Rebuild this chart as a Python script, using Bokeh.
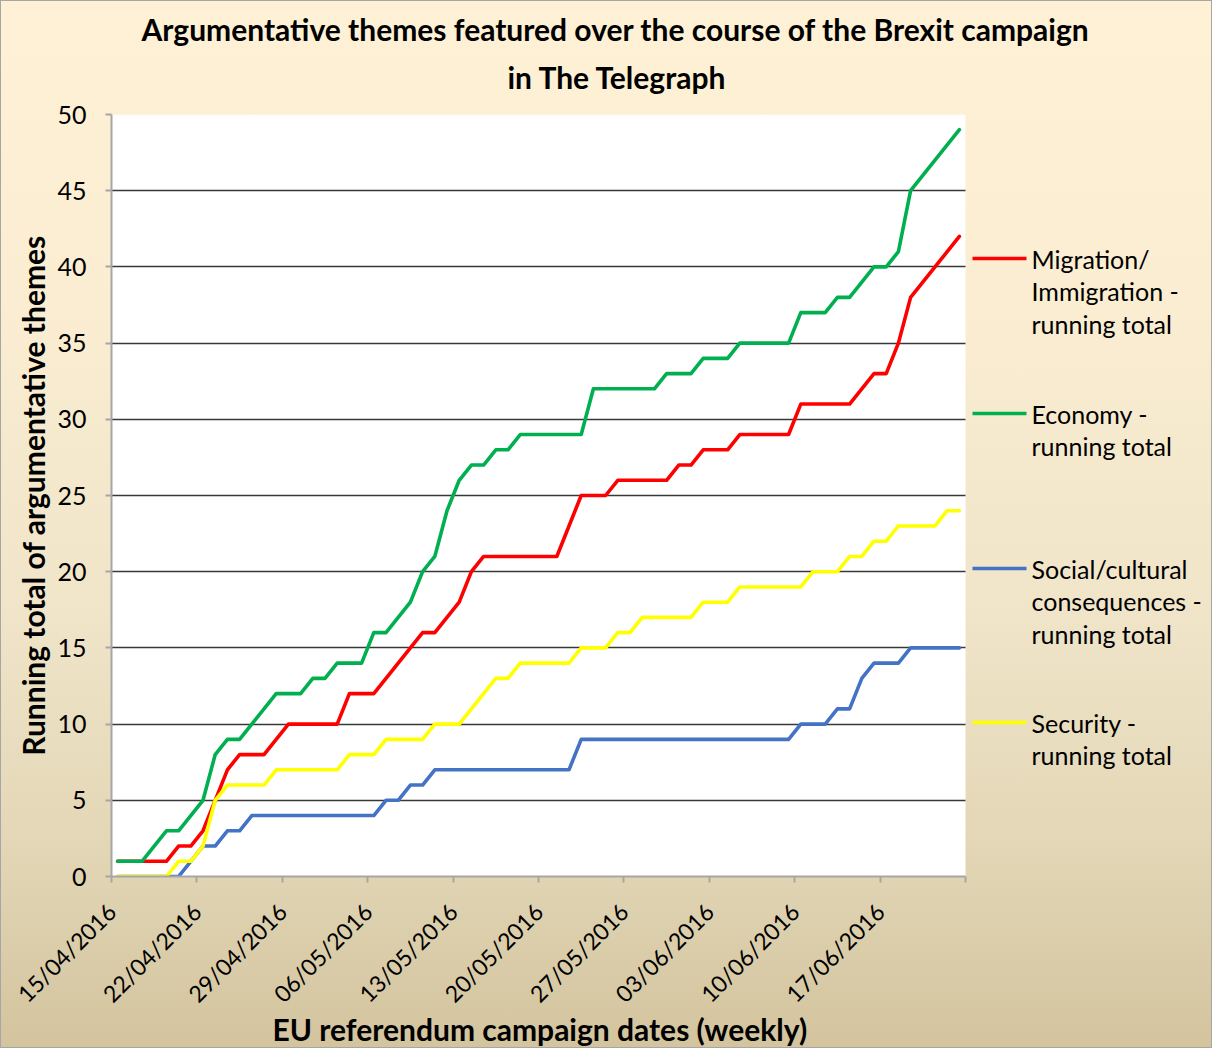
import math
from bokeh.plotting import figure
from bokeh.models import FixedTicker, Range1d, Title, Label, Arrow, BoxAnnotation
from bokeh.embed import file_html
from bokeh.resources import INLINE

# ---------------- data ----------------
days = list(range(70))  # 15/04/2016 .. 23/06/2016 (daily running totals)
tick_days = [0, 7, 14, 21, 28, 35, 42, 49, 56, 63, 70]
tick_labels = ["15/04/2016", "22/04/2016", "29/04/2016", "06/05/2016", "13/05/2016",
               "20/05/2016", "27/05/2016", "03/06/2016", "10/06/2016", "17/06/2016", ""]
y_ticks = [0, 5, 10, 15, 20, 25, 30, 35, 40, 45, 50]

migration = [1, 1, 1, 1, 1, 2, 2, 3, 5, 7, 8, 8, 8, 9, 10, 10, 10, 10, 10, 12,
             12, 12, 13, 14, 15, 16, 16, 17, 18, 20, 21, 21, 21, 21, 21, 21, 21, 23, 25, 25,
             25, 26, 26, 26, 26, 26, 27, 27, 28, 28, 28, 29, 29, 29, 29, 29, 31, 31, 31, 31,
             31, 32, 33, 33, 35, 38, 39, 40, 41, 42]
economy = [1, 1, 1, 2, 3, 3, 4, 5, 8, 9, 9, 10, 11, 12, 12, 12, 13, 13, 14, 14,
           14, 16, 16, 17, 18, 20, 21, 24, 26, 27, 27, 28, 28, 29, 29, 29, 29, 29, 29, 32,
           32, 32, 32, 32, 32, 33, 33, 33, 34, 34, 34, 35, 35, 35, 35, 35, 37, 37, 37, 38,
           38, 39, 40, 40, 41, 45, 46, 47, 48, 49]
social = [0, 0, 0, 0, 0, 0, 1, 2, 2, 3, 3, 4, 4, 4, 4, 4, 4, 4, 4, 4,
          4, 4, 5, 5, 6, 6, 7, 7, 7, 7, 7, 7, 7, 7, 7, 7, 7, 7, 9, 9,
          9, 9, 9, 9, 9, 9, 9, 9, 9, 9, 9, 9, 9, 9, 9, 9, 10, 10, 10, 11,
          11, 13, 14, 14, 14, 15, 15, 15, 15, 15]
security = [0, 0, 0, 0, 0, 1, 1, 2, 5, 6, 6, 6, 6, 7, 7, 7, 7, 7, 7, 8,
            8, 8, 9, 9, 9, 9, 10, 10, 10, 11, 12, 13, 13, 14, 14, 14, 14, 14, 15, 15,
            15, 16, 16, 17, 17, 17, 17, 17, 18, 18, 18, 19, 19, 19, 19, 19, 19, 20, 20, 20,
            21, 21, 22, 22, 23, 23, 23, 23, 24, 24]

series_names = [["Migration/", "Immigration -", "running total"],
                ["Economy -", "running total"],
                ["Social/cultural", "consequences -", "running total"],
                ["Security -", "running total"]]
series_values = [migration, economy, social, security]
series_colors = ["#FF0000", "#00B050", "#4472C4", "#FFFF00"]

title_lines = ["Argumentative themes featured over the course of the Brexit campaign",
               "in The Telegraph"]
x_title = "EU referendum campaign dates (weekly)"
y_title = "Running total of argumentative themes"

# ---------------- layout ----------------
W, H = 1212, 1048
PL, PR, PT, PB = 111, 965, 114, 876   # white plot-area edges in pixels
X0, X1, Y0, Y1 = 0, 70, 0, 50
sx = (PR - PL) / (X1 - X0)
sy = (PB - PT) / (Y1 - Y0)
X_END = X1 + (W - PR) / sx           # frame extends to the right edge (legend lives there)

def dx(px):
    return X0 + (px - PL) / sx

def dy(py):
    return Y0 + (PB - py) / sy

FONT = "Lato"

p = figure(width=W, height=H, output_backend="svg", toolbar_location=None,
           x_range=Range1d(X0, X_END), y_range=Range1d(Y0, Y1),
           min_border_left=PL, min_border_right=0,
           min_border_top=PT, min_border_bottom=H - PB)
p.title.visible = False
p.background_fill_alpha = 0
p.border_fill_alpha = 0
p.outline_line_color = None
p.styles = {"background": "linear-gradient(180deg, #FEF1D6 0%, #FAEDD1 30%, #F0E5C9 58%, #E3D7B7 80%, #D3C49E 100%)",
            "box-shadow": "inset 0 0 0 1px #A6A6A6"}

# white plot area
p.add_layout(BoxAnnotation(left=X0, right=X1, bottom=Y0, top=Y1, fill_color="white",
                           fill_alpha=1, line_color=None, level="image"))

# grid
p.xgrid.visible = False
g = p.ygrid[0]
g.ticker = FixedTicker(ticks=y_ticks)
g.grid_line_color = "#383838"
g.grid_line_width = 1.5
if "cross_bounds" in g.properties():
    g.cross_bounds = (X0, X1)
else:
    g.visible = False
    p.segment(x0=[X0] * len(y_ticks), x1=[X1] * len(y_ticks), y0=y_ticks, y1=y_ticks,
              line_color="#383838", line_width=1.5, level="underlay")

# axes
for ax in (p.xaxis[0], p.yaxis[0]):
    ax.axis_line_color = "#A6A6A6"
    ax.axis_line_width = 2
    ax.major_tick_line_color = "#A6A6A6"
    ax.major_tick_line_width = 2
    ax.major_tick_out = 6
    ax.major_tick_in = 0
    ax.minor_tick_line_color = None
    ax.major_label_text_font = FONT
    ax.major_label_text_color = "black"
    ax.axis_label_text_font = FONT
    ax.axis_label_text_font_style = "bold"
    ax.axis_label_text_font_size = "30px"
    ax.axis_label_text_color = "black"

p.yaxis[0].ticker = FixedTicker(ticks=y_ticks)
p.yaxis[0].major_label_text_font_size = "25px"
p.yaxis[0].major_label_standoff = 19
p.yaxis[0].axis_label = y_title
p.yaxis[0].axis_label_standoff = 3

p.xaxis[0].bounds = (X0, X1)
p.xaxis[0].ticker = FixedTicker(ticks=tick_days)
p.xaxis[0].major_label_overrides = {d: t for d, t in zip(tick_days, tick_labels)}
p.xaxis[0].major_label_orientation = math.pi / 4
p.xaxis[0].major_label_text_font_size = "23px"
p.xaxis[0].major_label_standoff = 25

# x-axis title, centred under the plot area (x = 538)
x_title_w = 532
p.add_layout(Title(text=x_title, align="left", offset=(PL + PR) / 2 - PL - x_title_w / 2,
                   text_font=FONT, text_font_style="bold", text_font_size="30px",
                   text_color="black", standoff=-24), "below")

# series (points sit in the middle of each day's slot)
xs = [d + 0.5 for d in days]
for vals, col in zip(series_values, series_colors):
    p.line(xs, vals, line_color=col, line_width=3.6, line_join="round", line_cap="round")

# title (two lines), left-aligned with offsets so each line is centred at x=615
title_w = [948, 216]
p.add_layout(Title(text=title_lines[1], align="left", offset=615 - PL - title_w[1] / 2,
                   text_font=FONT, text_font_style="bold", text_font_size="30px",
                   text_color="black", standoff=40), "above")
p.add_layout(Title(text=title_lines[0], align="left", offset=615 - PL - title_w[0] / 2,
                   text_font=FONT, text_font_style="bold", text_font_size="30px",
                   text_color="black", standoff=-20), "above")

# legend on the right (inside the extended frame)
legend_y = [258, 413, 568, 722]
for names, col, ly in zip(series_names, series_colors, legend_y):
    p.add_layout(Arrow(end=None, x_start=dx(972), y_start=dy(ly), x_end=dx(1026), y_end=dy(ly),
                       line_color=col, line_width=3.6))
    for j, nm in enumerate(names):
        p.add_layout(Label(x=dx(1031), y=dy(ly + 32.5 * j), text=nm, text_align="left",
                           text_baseline="middle", text_font=FONT,
                           text_font_size="25px", text_color="black"))

open("out.html", "w").write(file_html(p, INLINE))
